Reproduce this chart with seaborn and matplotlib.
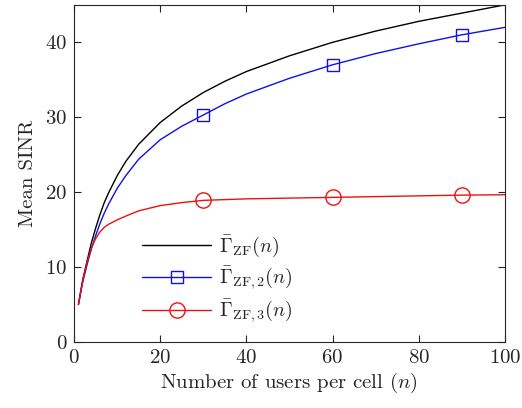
import numpy as np
import pandas as pd
import seaborn as sns
import matplotlib
matplotlib.use("Agg")
import matplotlib.pyplot as plt
from matplotlib.lines import Line2D

n_users = [1, 2, 3, 4, 5, 6, 7, 8, 10, 12, 15, 20, 25, 30, 35, 40, 50, 60, 70, 80, 90, 100]
gamma_zf = [5, 8.3, 10.8, 13.2, 15.2, 17.0, 18.6, 19.9, 22.2, 24.1, 26.4, 29.3, 31.5, 33.3, 34.8, 36.1, 38.2, 40.0, 41.5, 42.8, 43.9, 45.0]
gamma_zf2 = [5, 8.0, 10.3, 12.4, 14.2, 15.8, 17.2, 18.4, 20.5, 22.2, 24.4, 27.0, 28.8, 30.3, 31.8, 33.1, 35.2, 37.0, 38.5, 39.8, 41.0, 42.0]
gamma_zf3 = [5, 8.2, 10.6, 12.5, 13.8, 14.7, 15.3, 15.7, 16.3, 16.8, 17.5, 18.2, 18.6, 18.9, 19.0, 19.1, 19.2, 19.3, 19.4, 19.5, 19.6, 19.65]
marker_n = [30, 60, 90]

labels = [r"$\bar{\Gamma}_{\mathrm{ZF}}(n)$",
          r"$\bar{\Gamma}_{\mathrm{ZF},2}(n)$",
          r"$\bar{\Gamma}_{\mathrm{ZF},3}(n)$"]
xticks = [0, 20, 40, 60, 80, 100]
yticks = [0, 10, 20, 30, 40]

sns.set_style("ticks")
plt.rcParams["font.family"] = ["cmr10", "DejaVu Serif"]
plt.rcParams["mathtext.fontset"] = "cm"
plt.rcParams["axes.formatter.use_mathtext"] = True

fig = plt.figure(figsize=(5.22, 4.08), dpi=100)
ax = fig.add_axes([0.142, 0.162, 0.825, 0.826])

df = pd.DataFrame({"n": n_users, "zf": gamma_zf, "zf2": gamma_zf2, "zf3": gamma_zf3})
mk = df[df["n"].isin(marker_n)]

sns.lineplot(data=df, x="n", y="zf", ax=ax, color="black", lw=1.0)
sns.lineplot(data=df, x="n", y="zf2", ax=ax, color="#1010ee", lw=1.0)
sns.lineplot(data=df, x="n", y="zf3", ax=ax, color="#ee1010", lw=1.0)
ax.plot(mk["n"], mk["zf2"], ls="none", marker="s", ms=9, mfc="none", mec="#1010ee", mew=1.0)
ax.plot(mk["n"], mk["zf3"], ls="none", marker="o", ms=11, mfc="none", mec="#ee1010", mew=1.0)

handles = [Line2D([], [], color="black", lw=1.0),
           Line2D([], [], color="#1010ee", lw=1.0, marker="s", ms=9, mfc="none", mew=1.0),
           Line2D([], [], color="#ee1010", lw=1.0, marker="o", ms=11, mfc="none", mew=1.0)]
ax.legend(handles, labels, loc="upper left", bbox_to_anchor=(0.14, 0.345), frameon=False,
          fontsize=14.5, handlelength=3.4, handletextpad=0.4, labelspacing=0.3, borderaxespad=0)

ax.set_xlim(0, 100)
ax.set_ylim(0, 45)
ax.set_xticks(xticks)
ax.set_yticks(yticks)
ax.tick_params(direction="in", top=True, right=True, labelsize=15, length=5, width=0.8, pad=5)
for s in ax.spines.values():
    s.set_linewidth(0.8)
ax.set_xlabel("Number of users per cell $(n)$", fontsize=15, labelpad=3)
ax.set_ylabel("Mean SINR", fontsize=15, labelpad=6)

fig.savefig("out.png", dpi=100)
